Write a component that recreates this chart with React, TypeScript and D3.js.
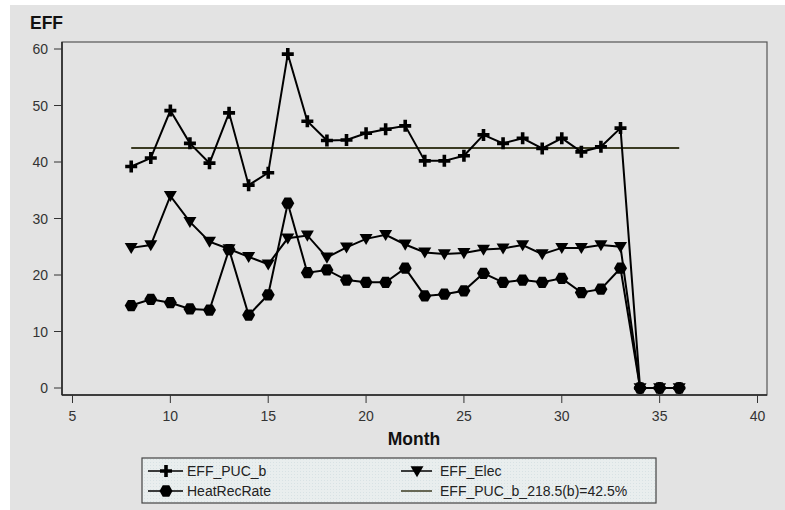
import React from "react";
import * as d3 from "d3";

const months = [8,9,10,11,12,13,14,15,16,17,18,19,20,21,22,23,24,25,26,27,28,29,30,31,32,33,34,35,36];
const effPucB = [39.2,40.7,49.1,43.3,39.8,48.7,35.9,38.1,59.1,47.2,43.8,43.9,45.1,45.8,46.4,40.2,40.2,41.1,44.8,43.3,44.2,42.4,44.2,41.8,42.7,46.0,0,0,0];
const effElec = [24.8,25.3,34.0,29.4,25.9,24.6,23.2,21.9,26.5,27.0,23.1,24.9,26.4,27.1,25.4,24.0,23.7,23.9,24.5,24.7,25.3,23.7,24.8,24.8,25.3,25.0,0,0,0];
const heatRecRate = [14.6,15.7,15.1,14.0,13.8,24.5,12.9,16.5,32.7,20.4,20.9,19.1,18.7,18.7,21.2,16.3,16.6,17.2,20.3,18.7,19.1,18.7,19.4,16.9,17.5,21.2,0,0,0];
const refValue = 42.5;
const refRange = [8, 36];
const xTicks = [5,10,15,20,25,30,35,40];
const yTicks = [0,10,20,30,40,50,60];
const legendLabels = ["EFF_PUC_b","HeatRecRate","EFF_Elec","EFF_PUC_b_218.5(b)=42.5%"];

const W = 785, H = 510;
const plot = { left: 62, right: 767, top: 42, bottom: 395 };

function Plus({ x, y, s = 6 }: { x: number; y: number; s?: number }) {
  return <path d={`M${x - s},${y}H${x + s}M${x},${y - s}V${y + s}`} stroke="#000" strokeWidth={3.6} fill="none" />;
}
function Hex({ x, y, r = 6.5 }: { x: number; y: number; r?: number }) {
  const pts = d3.range(6).map(i => {
    const a = (Math.PI / 3) * i;
    return [x + r * Math.cos(a), y + r * Math.sin(a)].join(",");
  }).join(" ");
  return <polygon points={pts} fill="#000" />;
}
function Tri({ x, y, s = 6.5 }: { x: number; y: number; s?: number }) {
  return <polygon points={`${x - s},${y - s * 0.75} ${x + s},${y - s * 0.75} ${x},${y + s * 0.95}`} fill="#000" />;
}

export default function App() {
  const x = d3.scaleLinear().domain([5, 40]).range([72.5, 757.5]);
  const y = d3.scaleLinear().domain([0, 60]).range([388, 49]);
  const line = d3.line<number>().x((_, i) => x(months[i])).y(d => y(d));
  const font = "Arial, 'Liberation Sans', sans-serif";

  return (
    <div style={{ position: "fixed", left: 0, top: 0 }}>
      <svg width={W} height={H} style={{ display: "block" }} fontFamily={font}>
        <defs>
          <pattern id="dots" width="3" height="3" patternUnits="userSpaceOnUse">
            <rect width="3" height="3" fill="#e9eeee" />
            <rect width="1" height="1" fill="#d8e2e4" />
          </pattern>
        </defs>
        <rect width={W} height={H} fill="#fff" />
        <rect x={10} y={5} width={W - 10} height={H - 5} fill="#e3e3e3" />
        {/* frame */}
        <rect x={plot.left} y={plot.top} width={plot.right - plot.left} height={plot.bottom - plot.top} fill="none" stroke="#555" strokeWidth={1.2} />
        <line x1={plot.left} x2={plot.left} y1={plot.top} y2={plot.bottom} stroke="#222" strokeWidth={1.5} />
        <line x1={plot.left} x2={plot.right} y1={plot.bottom} y2={plot.bottom} stroke="#222" strokeWidth={1.5} />
        {/* y ticks */}
        {yTicks.map(t => (
          <g key={"y" + t}>
            <line x1={plot.left - 8} x2={plot.left} y1={y(t)} y2={y(t)} stroke="#333" />
            <text x={48} y={y(t)} dy="0.36em" textAnchor="end" fontSize={14} fill="#333">{t}</text>
          </g>
        ))}
        {xTicks.map(t => (
          <g key={"x" + t}>
            <line x1={x(t)} x2={x(t)} y1={plot.bottom} y2={plot.bottom + 8} stroke="#333" />
            <text x={x(t)} y={421} textAnchor="middle" fontSize={14} fill="#333">{t}</text>
          </g>
        ))}
        <text x={30} y={29} fontSize={17.5} fontWeight="bold" fill="#111">EFF</text>
        <text x={414} y={445} fontSize={17.5} fontWeight="bold" textAnchor="middle" fill="#111">Month</text>
        {/* reference line */}
        <line x1={x(refRange[0])} x2={x(refRange[1])} y1={y(refValue)} y2={y(refValue)} stroke="#3b3b22" strokeWidth={2} />
        {/* series */}
        <path d={line(heatRecRate) || ""} fill="none" stroke="#000" strokeWidth={2} />
        <path d={line(effElec) || ""} fill="none" stroke="#000" strokeWidth={2} />
        <path d={line(effPucB) || ""} fill="none" stroke="#000" strokeWidth={2} />
        {heatRecRate.map((v, i) => <Hex key={"h" + i} x={x(months[i])} y={y(v)} />)}
        {effElec.map((v, i) => <Tri key={"t" + i} x={x(months[i])} y={y(v)} />)}
        {effPucB.map((v, i) => <Plus key={"p" + i} x={x(months[i])} y={y(v)} />)}
        {/* legend */}
        <rect x={142} y={458} width={514} height={45} fill="url(#dots)" stroke="#444" strokeWidth={1.2} />
        <line x1={148} x2={183} y1={471} y2={471} stroke="#000" strokeWidth={1.5} />
        <Plus x={166} y={471} />
        <text x={187} y={471} dy="0.36em" fontSize={14} fill="#222">{legendLabels[0]}</text>
        <line x1={148} x2={183} y1={491} y2={491} stroke="#000" strokeWidth={1.5} />
        <Hex x={166} y={491} />
        <text x={187} y={491} dy="0.36em" fontSize={14} fill="#222">{legendLabels[1]}</text>
        <line x1={401} x2={432} y1={471} y2={471} stroke="#000" strokeWidth={1.5} />
        <Tri x={417} y={471} />
        <text x={440} y={471} dy="0.36em" fontSize={14} fill="#222">{legendLabels[2]}</text>
        <line x1={401} x2={432} y1={491} y2={491} stroke="#3b3b22" strokeWidth={1.5} />
        <text x={440} y={491} dy="0.36em" fontSize={14} fill="#222">{legendLabels[3]}</text>
      </svg>
    </div>
  );
}
